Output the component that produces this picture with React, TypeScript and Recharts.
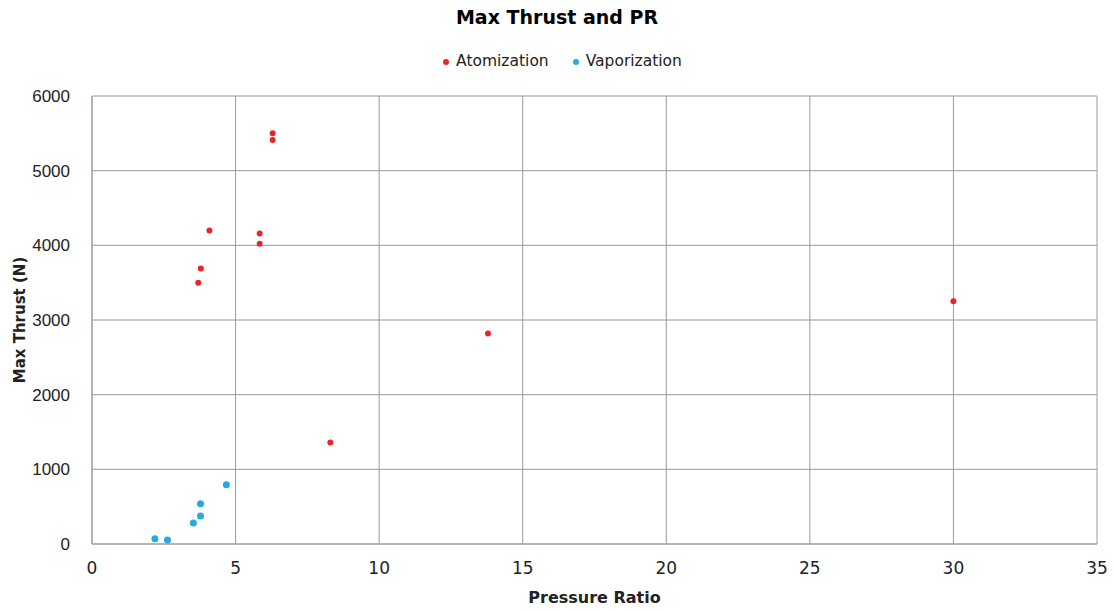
import { ScatterChart, Scatter, XAxis, YAxis, CartesianGrid, Legend } from 'recharts';

const atomizationPR = [6.29, 6.29, 4.09, 5.84, 5.84, 3.79, 3.7, 13.79, 8.3, 30.0];
const atomizationThrust = [5500, 5410, 4200, 4160, 4020, 3690, 3500, 2820, 1360, 3250];

const vaporizationPR = [2.19, 2.63, 3.53, 3.78, 3.78, 4.68];
const vaporizationThrust = [70, 55, 280, 375, 540, 795];

const xTicks = [0, 5, 10, 15, 20, 25, 30, 35];
const yTicks = [0, 1000, 2000, 3000, 4000, 5000, 6000];

const RED = '#e8262a';
const BLUE = '#2aa8e0';
const narrow = '"Liberation Sans Narrow", "DejaVu Sans", sans-serif';

const atomization = atomizationPR.map((x, i) => ({ x, y: atomizationThrust[i] }));
const vaporization = vaporizationPR.map((x, i) => ({ x, y: vaporizationThrust[i] }));

const dot = (color: string, r: number) => (props: any) =>
  <circle cx={props.cx} cy={props.cy} r={r} fill={color} />;

export default function App() {
  return (
    <div style={{ position: 'absolute', left: 0, top: 0, width: 1114, height: 611, background: '#fff' }}>
      <div
        style={{
          position: 'absolute', top: 6, width: 1114, textAlign: 'center',
          fontFamily: '"DejaVu Sans", sans-serif', fontWeight: 'bold', fontSize: 19, color: '#000',
        }}
      >
        Max Thrust and PR
      </div>
      <ScatterChart width={1114} height={611} margin={{ top: 78, right: 17, bottom: 8, left: 0 }}>
        <CartesianGrid stroke="#9a9a9a" strokeWidth={1} />
        <XAxis
          type="number"
          dataKey="x"
          domain={[0, 35]}
          ticks={xTicks}
          tickLine={false}
          axisLine={{ stroke: '#9a9a9a' }}
          tick={{ fontSize: 17, fill: '#222', fontFamily: narrow }}
          tickMargin={12}
          height={59}
          label={{
            value: 'Pressure Ratio',
            position: 'insideBottom',
            offset: 0,
            style: { fontSize: 16, fontWeight: 'bold', fill: '#222', fontFamily: narrow },
          }}
        />
        <YAxis
          type="number"
          dataKey="y"
          domain={[0, 6000]}
          ticks={yTicks}
          tickLine={false}
          axisLine={{ stroke: '#9a9a9a' }}
          tick={{ fontSize: 17, fill: '#222', fontFamily: '"Liberation Sans", Arial, sans-serif' }}
          tickMargin={16}
          width={92}
          label={{
            value: 'Max Thrust (N)',
            angle: -90,
            position: 'insideLeft',
            offset: 20,
            style: { textAnchor: 'middle', fontSize: 15, fontWeight: 'bold', fill: '#222', fontFamily: narrow },
          }}
        />
        <Legend
          verticalAlign="top"
          align="center"
          iconType="circle"
          iconSize={6}
          wrapperStyle={{ top: 52, paddingLeft: 19, fontSize: 15.5, fontFamily: '"DejaVu Sans", sans-serif' }}
          formatter={(value: string) => (
            <span style={{ color: '#222', marginLeft: 3, marginRight: value === 'Atomization' ? 14 : 0 }}>{value}</span>
          )}
        />
        <Scatter name="Atomization" data={atomization} fill={RED} shape={dot(RED, 3)} isAnimationActive={false} />
        <Scatter name="Vaporization" data={vaporization} fill={BLUE} shape={dot(BLUE, 3.5)} isAnimationActive={false} />
      </ScatterChart>
    </div>
  );
}
